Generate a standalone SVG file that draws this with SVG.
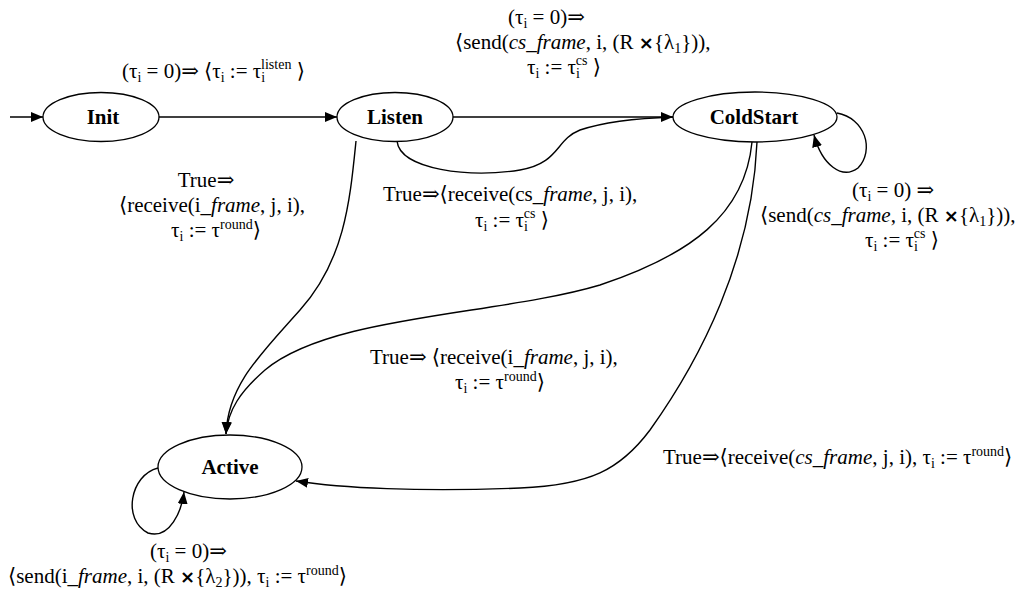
<svg xmlns="http://www.w3.org/2000/svg" width="1033" height="599" viewBox="0 0 1033 599" font-family="'Liberation Serif', 'Times New Roman', Times, 'DejaVu Serif', serif">
<style>
text{font-family:'Liberation Serif','Times New Roman',Times,'DejaVu Serif',serif;font-size:21px;fill:#000}
.b{font-weight:bold;font-size:21px}
.sb{font-size:14px}
.it{font-style:italic}
.x{font-family:'DejaVu Sans',sans-serif;font-weight:bold;font-size:18px}
ellipse{fill:#fff;stroke:#000;stroke-width:1.3}
#edges path{fill:none;stroke:#000;stroke-width:1.4}
</style>
<defs>
<marker id="arr" markerWidth="12" markerHeight="10" refX="12" refY="5" orient="auto" markerUnits="userSpaceOnUse"><path d="M0,0 L12,5 L0,10 z" fill="#000"/></marker>
</defs>
<g id="edges">
<path d="M10,117 L43,117" marker-end="url(#arr)"/>
<path d="M159,117 L337,117" marker-end="url(#arr)"/>
<path d="M453,117 L673,117" marker-end="url(#arr)"/>
<path d="M397,141 C400,170 470,178 520,170 C560,163 555,140 580,130 C610,120 645,118 673,117"/>
<path d="M356,141 C350,200 345,260 300,310 C260,355 228,385 226,434" marker-end="url(#arr)"/>
<path d="M752,142 C745,215 690,255 600,285 C500,315 330,315 265,370 C240,392 228,410 226,434" marker-end="url(#arr)"/>
<path d="M757,142 C752,260 700,360 650,430 C620,470 590,485 520,488 C420,492 340,488 296,481" marker-end="url(#arr)"/>
<path d="M837,113 C865,118 875,150 858,168 C842,180 822,165 814,135" marker-end="url(#arr)"/>
<path d="M158,468 C130,475 122,520 148,533 C170,540 182,510 184,492" marker-end="url(#arr)"/>
</g>
<g id="Init"><ellipse cx="101" cy="117" rx="58" ry="24.5"/><text class="b" x="103" y="124" text-anchor="middle">Init</text></g>
<g id="Listen"><ellipse cx="395" cy="117" rx="58" ry="24.5"/><text class="b" x="395" y="124" text-anchor="middle">Listen</text></g>
<g id="ColdStart"><ellipse cx="755" cy="117" rx="82" ry="25"/><text class="b" x="754" y="124" text-anchor="middle">ColdStart</text></g>
<g id="Active"><ellipse cx="230" cy="467" rx="72" ry="32"/><text class="b" x="230" y="474" text-anchor="middle">Active</text></g>
<g id="labels">
<text x="122" y="78">(τ<tspan class="sb" dy="4">i</tspan><tspan dy="-4"> = 0)⇒ ⟨τ</tspan><tspan class="sb" dy="4">i</tspan><tspan dy="-4"> := τ</tspan><tspan class="sb" dy="4">i</tspan><tspan class="sb" dx="-4" dy="-13">listen</tspan><tspan dy="9"> ⟩</tspan></text>
<text x="508" y="24">(τ<tspan class="sb" dy="4">i</tspan><tspan dy="-4"> = 0)⇒</tspan></text>
<text x="455" y="49">⟨send(<tspan class="it">cs_frame</tspan>, i, (R <tspan class="x">×</tspan>{λ<tspan class="sb" dy="4">1</tspan><tspan dy="-4">})),</tspan></text>
<text x="527" y="74">τ<tspan class="sb" dy="4">i</tspan><tspan dy="-4"> := τ</tspan><tspan class="sb" dy="4">i</tspan><tspan class="sb" dx="-4" dy="-13">cs</tspan><tspan dy="9"> ⟩</tspan></text>
<text x="206" y="187" text-anchor="middle">True⇒</text>
<text x="212" y="212" text-anchor="middle">⟨receive(i_<tspan class="it">frame</tspan>, j, i),</text>
<text x="216" y="237" text-anchor="middle">τ<tspan class="sb" dy="4">i</tspan><tspan dy="-4"> := τ</tspan><tspan class="sb" dy="-8">round</tspan><tspan dy="8">⟩</tspan></text>
<text x="383" y="201">True⇒⟨receive(cs_<tspan class="it">frame</tspan>, j, i),</text>
<text x="475" y="227">τ<tspan class="sb" dy="4">i</tspan><tspan dy="-4"> := τ</tspan><tspan class="sb" dy="4">i</tspan><tspan class="sb" dx="-4" dy="-13">cs</tspan><tspan dy="9"> ⟩</tspan></text>
<text x="852" y="197">(τ<tspan class="sb" dy="4">i</tspan><tspan dy="-4"> = 0) ⇒</tspan></text>
<text x="760" y="222">⟨send(<tspan class="it">cs_frame</tspan>, i, (R <tspan class="x">×</tspan>{λ<tspan class="sb" dy="4">1</tspan><tspan dy="-4">})),</tspan></text>
<text x="865" y="247">τ<tspan class="sb" dy="4">i</tspan><tspan dy="-4"> := τ</tspan><tspan class="sb" dy="4">i</tspan><tspan class="sb" dx="-4" dy="-13">cs</tspan><tspan dy="9"> ⟩</tspan></text>
<text x="370" y="364">True⇒ ⟨receive(i_<tspan class="it">frame</tspan>, j, i),</text>
<text x="455" y="389">τ<tspan class="sb" dy="4">i</tspan><tspan dy="-4"> := τ</tspan><tspan class="sb" dy="-8">round</tspan><tspan dy="8">⟩</tspan></text>
<text x="663" y="464">True⇒⟨receive(<tspan class="it">cs_frame</tspan>, j, i), τ<tspan class="sb" dy="4">i</tspan><tspan dy="-4"> := τ</tspan><tspan class="sb" dy="-8">round</tspan><tspan dy="8">⟩</tspan></text>
<text x="150" y="558">(τ<tspan class="sb" dy="4">i</tspan><tspan dy="-4"> = 0)⇒</tspan></text>
<text x="8" y="583">⟨send(i_<tspan class="it">frame</tspan>, i, (R <tspan class="x">×</tspan>{λ<tspan class="sb" dy="4">2</tspan><tspan dy="-4">})), τ</tspan><tspan class="sb" dy="4">i</tspan><tspan dy="-4"> := τ</tspan><tspan class="sb" dy="-8">round</tspan><tspan dy="8">⟩</tspan></text>
</g>
</svg>
